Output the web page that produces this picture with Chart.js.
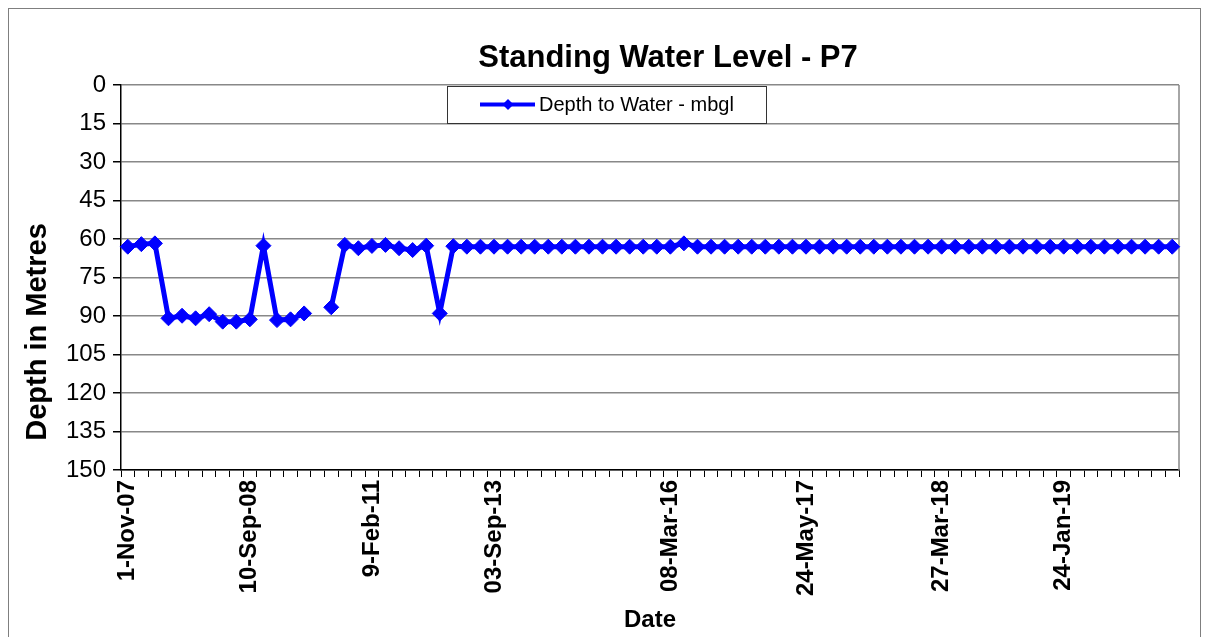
<!DOCTYPE html>
<html>
<head>
<meta charset="utf-8">
<title>Standing Water Level - P7</title>
<script src="https://cdn.jsdelivr.net/npm/chart.js@4.4.1/dist/chart.umd.min.js"></script>
<style>
  html, body { margin: 0; padding: 0; background: #fff; overflow: hidden; }
  #wrap { position: relative; width: 1208px; height: 637px; }
  #frame { position: absolute; left: 8px; top: 8px; width: 1191px; height: 700px; border: 1px solid #7f7f7f; }
  #chart { position: absolute; left: 0; top: 0; }
</style>
</head>
<body>
<div id="wrap">
  <div id="frame"></div>
  <canvas id="chart" width="1208" height="637"></canvas>
</div>
<script>
// dates shown on the axis (other categories have no label printed)
var dateLabels = [
    '1-Nov-07', '', '', '', '', '', '', '', '', '10-Sep-08',
    '', '', '', '', '', '', '', '', '9-Feb-11', '',
    '', '', '', '', '', '', '', '03-Sep-13', '', '',
    '', '', '', '', '', '', '', '', '', '',
    '08-Mar-16', '', '', '', '', '', '', '', '', '',
    '24-May-17', '', '', '', '', '', '', '', '', '',
    '27-Mar-18', '', '', '', '', '', '', '', '', '24-Jan-19',
    '', '', '', '', '', '', '', ''
];

// depth to water, metres below ground level (null = no reading)
var depthToWater = [
    63.0, 62.0, 61.7, 90.9, 89.9, 90.9, 89.3, 92.2, 92.2, 91.3,
    62.6, 91.6, 91.3, 89.0, null, 86.6, 62.3, 63.6, 62.7, 62.3,
    63.6, 64.3, 62.6, 89.0, 62.8, 63, 63, 63, 63, 63,
    63, 63, 63, 63, 63, 63, 63, 63, 63, 63,
    63, 61.7, 63, 63, 63, 63, 63, 63, 63, 63,
    63, 63, 63, 63, 63, 63, 63, 63, 63, 63,
    63, 63, 63, 63, 63, 63, 63, 63, 63, 63,
    63, 63, 63, 63, 63, 63, 63, 63
];

var depthTicks = [0, 15, 30, 45, 60, 75, 90, 105, 120, 135, 150];

var FONT = "'Liberation Sans', Arial, sans-serif";

// titles, legend box and plot border, drawn Excel style
var extras = {
    id: 'extras',
    beforeDatasetsDraw: function (chart) {
        var ctx = chart.ctx, a = chart.chartArea;
        ctx.save();
        ctx.strokeStyle = '#888';
        ctx.lineWidth = 1.5;
        ctx.beginPath();
        ctx.moveTo(a.right, a.top);
        ctx.lineTo(a.right, a.bottom);
        ctx.stroke();
        ctx.restore();
    },
    afterDraw: function (chart) {
        var ctx = chart.ctx;
        ctx.save();
        ctx.fillStyle = '#000';

        // main title
        ctx.font = 'bold 31px ' + FONT;
        ctx.textAlign = 'center';
        ctx.textBaseline = 'middle';
        ctx.fillText('Standing Water Level - P7', 668, 58);

        // x axis title
        ctx.font = 'bold 24px ' + FONT;
        ctx.fillText('Date', 650, 620);

        // y axis title
        ctx.save();
        ctx.translate(38, 332);
        ctx.rotate(-Math.PI / 2);
        ctx.font = 'bold 29px ' + FONT;
        ctx.fillText('Depth in Metres', 0, 0);
        ctx.restore();

        // legend
        ctx.fillStyle = '#fff';
        ctx.fillRect(447, 86, 319, 37);
        ctx.strokeStyle = '#333';
        ctx.lineWidth = 1;
        ctx.strokeRect(447.5, 86.5, 319, 37);
        ctx.strokeStyle = '#0000ff';
        ctx.lineWidth = 4;
        ctx.beginPath();
        ctx.moveTo(480, 104.5);
        ctx.lineTo(535, 104.5);
        ctx.stroke();
        ctx.fillStyle = '#0000ff';
        ctx.beginPath();
        ctx.moveTo(508, 99);
        ctx.lineTo(513.5, 104.5);
        ctx.lineTo(508, 110);
        ctx.lineTo(502.5, 104.5);
        ctx.closePath();
        ctx.fill();
        ctx.fillStyle = '#000';
        ctx.font = '20px ' + FONT;
        ctx.textAlign = 'left';
        ctx.fillText(chart.data.datasets[0].label, 539, 105);
        ctx.restore();
    }
};

var ctx = document.getElementById('chart').getContext('2d');
var chart = new Chart(ctx, {
    type: 'line',
    data: {
        labels: dateLabels,
        datasets: [{
            label: 'Depth to Water - mbgl',
            data: depthToWater,
            borderColor: '#0000ff',
            backgroundColor: '#0000ff',
            borderWidth: 5,
            pointStyle: 'rectRot',
            pointRadius: 7.5,
            pointBorderWidth: 1,
            pointHoverRadius: 7.5,
            spanGaps: false,
            tension: 0,
            fill: false
        }]
    },
    options: {
        responsive: false,
        devicePixelRatio: 1,
        animation: false,
        layout: {padding: {top: 85, right: 29, left: 0, bottom: 0}},
        plugins: {
            legend: {display: false},
            title: {display: false},
            tooltip: {enabled: false}
        },
        scales: {
            x: {
                type: 'category',
                offset: true,
                afterFit: function (scale) { scale.height = 167; },
                grid: {
                    offset: true,
                    drawOnChartArea: false,
                    drawTicks: true,
                    tickLength: 7,
                    color: '#000',
                    lineWidth: 1
                },
                border: {display: true, color: '#000', width: 1.5},
                ticks: {
                    autoSkip: false,
                    minRotation: 90,
                    maxRotation: 90,
                    padding: 3,
                    color: '#000',
                    font: {family: FONT, size: 24, weight: 'bold'}
                }
            },
            y: {
                reverse: true,
                min: 0,
                max: 150,
                afterFit: function (scale) { scale.width = 121; },
                afterBuildTicks: function (scale) {
                    scale.ticks = depthTicks.map(function (v) { return {value: v}; });
                },
                grid: {
                    color: '#888',
                    lineWidth: 1.5,
                    tickColor: '#000',
                    tickLength: 8,
                    drawTicks: true
                },
                border: {display: true, color: '#000', width: 1.5},
                ticks: {
                    padding: 7,
                    color: '#000',
                    font: {family: FONT, size: 24}
                }
            }
        }
    },
    plugins: [extras]
});
</script>
</body>
</html>
